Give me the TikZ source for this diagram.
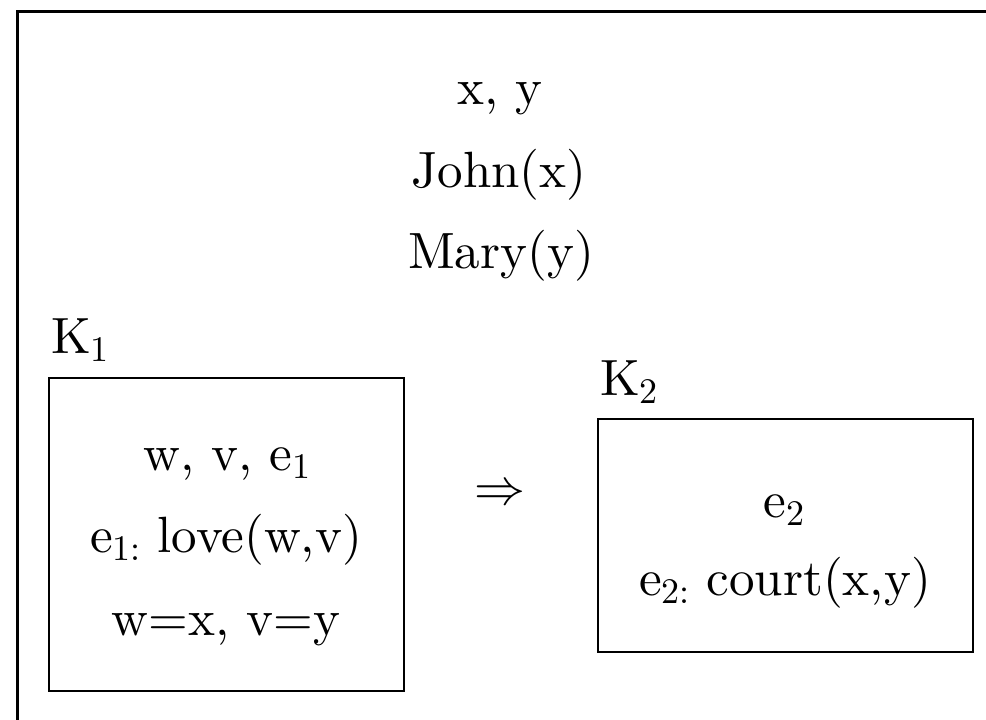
\documentclass[tikz,border=0pt]{standalone}
\usepackage{fontspec}
\setmainfont{lmroman10-regular}[Extension=.otf]
\usepackage{graphicx}
\newcommand{\drssub}[1]{\raisebox{-0.17em}{\fontsize{36}{40}\selectfont #1}}
\begin{document}
\begin{tikzpicture}[x=1pt,y=-1pt,
  txt/.style={anchor=base,inner sep=0pt,font=\fontsize{51}{60}\selectfont},
  drsbox/.style={draw,line width=2.2pt,inner sep=0pt},
  frameline/.style={line width=3pt}]
\useasboundingbox (0,0) rectangle (986,720);
% outer frame (only left and top edges visible)
\coordinate (fbl) at (17,720);
\coordinate (ftl) at (17,11);
\coordinate (ftr) at (986,11);
\draw[frameline] (fbl) -- (ftl) -- (ftr);
% main universe and conditions
\node[txt] (xy) at (500,104) {x, y};
\node[txt] (john) at (499,187) {John(x)};
\node[txt] (mary) at (501,268) {Mary(y)};
% K1
\node[txt,anchor=base west] (k1lab) at (51,353) {K\drssub{1}};
\node[drsbox,minimum width=355pt,minimum height=313pt] (k1) at (226.5,534.5) {};
\node[txt] (k1a) at (227,470) {w, v, e\drssub{1}};
\node[txt] (k1b) at (226,552) {e\drssub{1:} love(w,v)};
\node[txt] (k1c) at (226,635) {w=x, v=y};
% implication arrow
\node[anchor=center,inner sep=0pt] (imp) at (500,495) {\scalebox{5.1}{$\Rightarrow$}};
% K2
\node[txt,anchor=base west] (k2lab) at (600,395) {K\drssub{2}};
\node[drsbox,minimum width=375pt,minimum height=233pt] (k2) at (785.5,535.5) {};
\node[txt] (k2a) at (784,517) {e\drssub{2}};
\node[txt] (k2b) at (785,595) {e\drssub{2:} court(x,y)};
\end{tikzpicture}
\end{document}
